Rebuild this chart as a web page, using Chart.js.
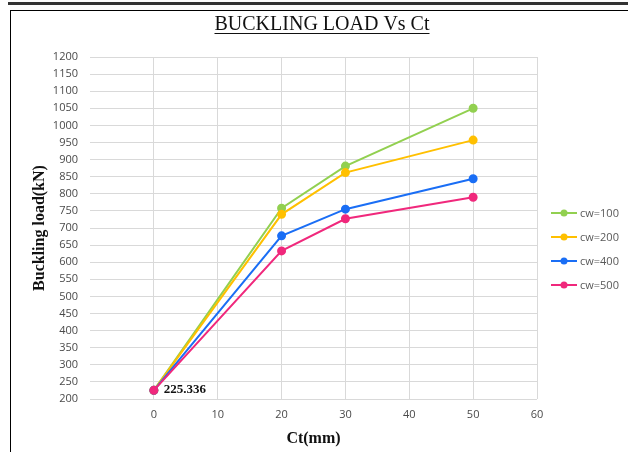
<!DOCTYPE html>
<html>
<head>
<meta charset="utf-8">
<script src="https://cdn.jsdelivr.net/npm/chart.js@4/dist/chart.umd.min.js"></script>
<style>
  html, body { margin: 0; padding: 0; background: #fff; }
  #wrap { position: relative; width: 628px; height: 452px; overflow: hidden; }
  #topline { position: absolute; left: 8px; top: 2px; width: 620px; height: 3px; background: #333; }
  #box { position: absolute; left: 10px; top: 10px; width: 630px; height: 460px; border: 1.5px solid #000; box-sizing: border-box; }
  canvas { position: absolute; left: 0; top: 0; }
</style>
</head>
<body>
<div id="wrap">
  <div id="topline"></div>
  <div id="box"></div>
  <canvas id="chart" width="628" height="452"></canvas>
</div>
<script>
const ct = [0, 20, 30, 50]
const cw100 = [225.336, 758, 881, 1050]
const cw200 = [225.336, 740, 862, 957]
const cw400 = [225.336, 677, 755, 844]
const cw500 = [225.336, 633, 727, 790]
const seriesLabels = ['cw=100', 'cw=200', 'cw=400', 'cw=500']
const seriesColors = ['#92D050', '#FFC000', '#1A6EF5', '#F0287C']

function pts(vals) {
  return ct.map((x, i) => ({x: x, y: vals[i]}))
}

const titleAndLegend = {
  id: 'titleAndLegend',
  afterDraw(chart) {
    const c = chart.ctx
    c.save()
    // title with underline
    c.font = '20px "Liberation Serif"'
    c.fillStyle = '#111'
    c.textAlign = 'center'
    c.textBaseline = 'alphabetic'
    const t = 'BUCKLING LOAD Vs Ct'
    c.fillText(t, 322, 30)
    const w = c.measureText(t).width
    c.fillRect(322 - w / 2, 33, w, 1)

    // legend
    c.font = '11px "Open Sans"'
    c.textAlign = 'left'
    c.textBaseline = 'middle'
    chart.data.datasets.forEach((ds, i) => {
      const y = 213 + i * 24
      c.strokeStyle = ds.borderColor
      c.lineWidth = 2
      c.beginPath()
      c.moveTo(551, y)
      c.lineTo(577, y)
      c.stroke()
      c.fillStyle = ds.borderColor
      c.beginPath()
      c.arc(564, y, 3.5, 0, Math.PI * 2)
      c.fill()
      c.fillStyle = '#595959'
      c.fillText(ds.label, 580, y + 1)
    })

    // data label on first point
    const xs = chart.scales.x, ys = chart.scales.y
    c.font = 'bold 13px "Liberation Serif"'
    c.fillStyle = '#111'
    c.fillText(String(cw500[0]), xs.getPixelForValue(ct[0]) + 10, ys.getPixelForValue(cw500[0]) - 1)
    c.restore()
  }
}

const ctx = document.getElementById('chart').getContext('2d')
const chart = new Chart(ctx, {
  type: 'line',
  data: {
    datasets: [
      {label: seriesLabels[0], data: pts(cw100)},
      {label: seriesLabels[1], data: pts(cw200)},
      {label: seriesLabels[2], data: pts(cw400)},
      {label: seriesLabels[3], data: pts(cw500)}
    ].map((d, i) => Object.assign(d, {
      borderColor: seriesColors[i],
      backgroundColor: seriesColors[i],
      borderWidth: 2,
      pointRadius: 3.5,
      pointHoverRadius: 3.5,
      fill: false,
      tension: 0,
      order: 3 - i
    }))
  },
  options: {
    responsive: false,
    animation: false,
    layout: {
      padding: {left: 20, right: 91, top: 57, bottom: 0}
    },
    plugins: {
      legend: {display: false},
      tooltip: {enabled: false}
    },
    scales: {
      x: {
        type: 'linear',
        min: -10,
        max: 60,
        afterFit(scale) { scale.height = 53 },
        ticks: {
          stepSize: 10,
          padding: 9,
          color: '#4a4a4a',
          font: {family: 'Open Sans', size: 11},
          callback: v => v < 0 ? '' : String(v)
        },
        grid: {
          drawTicks: false,
          color: ctx => ctx.tick && ctx.tick.value < 0 ? 'rgba(0,0,0,0)' : '#D9D9D9'
        },
        border: {display: false},
        title: {
          display: true,
          text: 'Ct(mm)',
          color: '#111',
          font: {family: 'Liberation Serif', size: 16, weight: 'bold'},
          padding: {top: 0, bottom: 4}
        }
      },
      y: {
        min: 200,
        max: 1200,
        afterFit(scale) { scale.width = 70 },
        ticks: {
          stepSize: 50,
          padding: 12,
          color: '#4a4a4a',
          font: {family: 'Open Sans', size: 11},
          callback: v => String(v)
        },
        grid: {drawTicks: false, color: '#D9D9D9'},
        border: {display: false},
        title: {
          display: true,
          text: 'Buckling load(kN)',
          color: '#111',
          font: {family: 'Liberation Serif', size: 16, weight: 'bold'},
          padding: {top: 10, bottom: 0}
        }
      }
    }
  },
  plugins: [titleAndLegend]
})
</script>
</body>
</html>
